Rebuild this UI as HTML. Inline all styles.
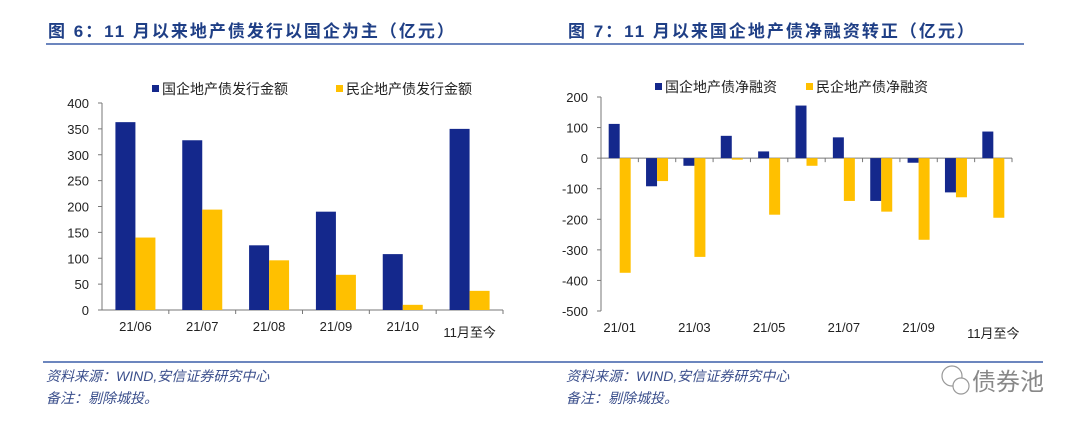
<!DOCTYPE html>
<html><head><meta charset="utf-8">
<style>
body{margin:0;width:1080px;height:426px;background:#fff;overflow:hidden}
svg text{font-family:"Liberation Sans","Noto Sans CJK SC",sans-serif}
</style></head>
<body>
<svg id="s" width="1080" height="426" xmlns="http://www.w3.org/2000/svg">
<g>
<text x="48" y="37" font-size="17" font-weight="bold" fill="#1f3f86" letter-spacing="2">图 6：11 月以来地产债发行以国企为主（亿元）</text>
<line x1="46" y1="44" x2="540" y2="44" stroke="#3b5fa8" stroke-width="1.5"/>
<text x="568" y="37" font-size="17" font-weight="bold" fill="#1f3f86" letter-spacing="2">图 7：11 月以来国企地产债净融资转正（亿元）</text>
<line x1="540" y1="44" x2="1024" y2="44" stroke="#3b5fa8" stroke-width="1.5"/>
<line x1="43" y1="362" x2="1043" y2="362" stroke="#3b5fa8" stroke-width="1.5"/>
</g>
<g font-style="italic" font-size="14" fill="#3b4f8c">
<text x="46" y="381">资料来源：WIND,安信证券研究中心</text>
<text x="46" y="403">备注：剔除城投。</text>
<text x="566" y="381">资料来源：WIND,安信证券研究中心</text>
<text x="566" y="403">备注：剔除城投。</text>
</g>
<g>
<circle cx="952" cy="376" r="10" fill="none" stroke="#999" stroke-width="1.2"/>
<circle cx="961" cy="386" r="8" fill="#fff" stroke="#999" stroke-width="1.2"/>
<text x="972" y="390" font-size="24" fill="#888">债券池</text>
</g>
<g id="c1"></g>
<g id="c2"></g>
</svg>
<script>
const NS="http://www.w3.org/2000/svg";
const cats1=["21/06","21/07","21/08","21/09","21/10","11月至今"];
const soe1=[363,328,125,190,108,350];
const pri1=[140,194,96,68,10,37];
const ticks1=[0,50,100,150,200,250,300,350,400];
const cats2=["21/01","21/02","21/03","21/04","21/05","21/06","21/07","21/08","21/09","21/10","11月至今"];
const soe2=[112,-92,-25,73,22,172,68,-140,-15,-112,87];
const pri2=[-375,-75,-323,-5,-185,-25,-140,-175,-267,-128,-195];
const ticks2=[200,100,0,-100,-200,-300,-400,-500];
const NAVY="#14288c",YEL="#ffc000";
function el(p,t,a){const e=document.createElementNS(NS,t);for(const k in a)e.setAttribute(k,a[k]);p.appendChild(e);return e;}
function txt(p,x,y,s,anc,fs){const e=el(p,"text",{x:x,y:y,"text-anchor":anc,"font-size":fs||13,fill:"#222"});e.textContent=s;return e;}
function chart(g,cats,s1,s2,ticks,x0,x1,yTop,yBot,vMax,vMin,bw,names,legX,legY,labelEvery){
  const y=v=>yTop+(vMax-v)/(vMax-vMin)*(yBot-yTop);
  const cw=(x1-x0)/cats.length;
  ticks.forEach(t=>{
    const tl=txt(g,x0-13,y(t)+5,String(t),"end",13);
    
    
    el(g,"line",{x1:x0-4,x2:x0,y1:y(t),y2:y(t),stroke:"#777"});
  });
  el(g,"line",{x1:x0,x2:x0,y1:yTop,y2:yBot,stroke:"#777"});
  const y0=y(0);
  el(g,"line",{x1:x0,x2:x1,y1:y0,y2:y0,stroke:"#777"});
  cats.forEach((c,i)=>{
    el(g,"line",{x1:x0+cw*(i+1),x2:x0+cw*(i+1),y1:y0,y2:y0+4,stroke:"#777"});
    const cx=x0+cw*(i+0.5);
    const a=s1[i],b=s2[i];
    const r1=el(g,"rect",{x:cx-bw,y:Math.min(y(a),y0),width:bw,height:Math.abs(y(a)-y0),fill:NAVY});
    
    
    const r2=el(g,"rect",{x:cx,y:Math.min(y(b),y0),width:bw,height:Math.abs(y(b)-y0),fill:YEL});
    
    
    const last=i==cats.length-1;
    if(last||i%labelEvery==0){
      const t=txt(g,cx,last?yBot+27:yBot+21,c,"middle",13);
      
      
    }
  });
  [[NAVY,names[0],legX[0]],[YEL,names[1],legX[1]]].forEach(([col,n,lx])=>{
    el(g,"rect",{x:lx,y:legY-9,width:7,height:7,fill:col});
    const t=txt(g,lx+10,legY,n,"start",14);
    
    
  });
}
chart(document.getElementById("c1"),cats1,soe1,pri1,ticks1,102,503,103,310,400,0,20,["国企地产债发行金额","民企地产债发行金额"],[152,336],94,1);
chart(document.getElementById("c2"),cats2,soe2,pri2,ticks2,601,1012,97,311,200,-500,11,["国企地产债净融资","民企地产债净融资"],[655,806],92,2);
</script>
</body></html>
